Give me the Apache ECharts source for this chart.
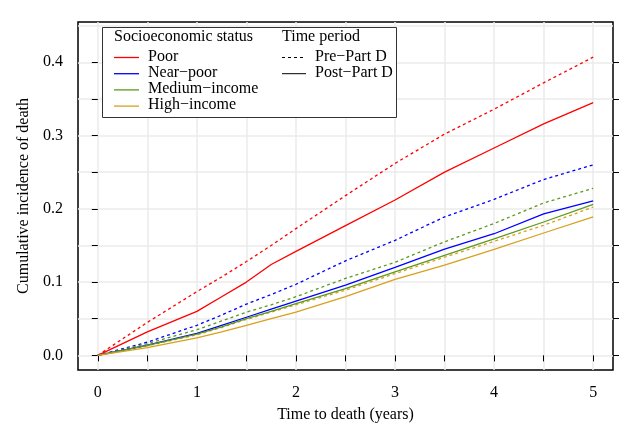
<!DOCTYPE html>
<html>
<head>
<meta charset="utf-8">
<script src="https://cdn.jsdelivr.net/npm/echarts@6/dist/echarts.min.js"></script>
<style>
  html, body { margin: 0; padding: 0; background: #fff; }
  #chart { width: 621px; height: 425px; }
</style>
</head>
<body>
<div id="chart"></div>
<script>
// years since start
const timePoints = [0, 0.5, 1, 1.25, 1.5, 1.75, 2, 2.5, 3, 3.5, 4, 4.5, 5];

// cumulative incidence
const poorPre      = [0, 0.045, 0.087, 0.107, 0.128, 0.150, 0.173, 0.218, 0.262, 0.302, 0.336, 0.372, 0.407];
const poorPost     = [0, 0.032, 0.060, 0.080, 0.100, 0.124, 0.142, 0.177, 0.212, 0.250, 0.283, 0.316, 0.345];
const nearPoorPre  = [0, 0.018, 0.041, 0.055, 0.070, 0.083, 0.097, 0.129, 0.157, 0.189, 0.213, 0.240, 0.260];
const nearPoorPost = [0, 0.014, 0.030, 0.041, 0.052, 0.063, 0.074, 0.096, 0.120, 0.145, 0.166, 0.193, 0.211];
const mediumPre    = [0, 0.016, 0.035, 0.047, 0.059, 0.069, 0.080, 0.105, 0.127, 0.155, 0.180, 0.208, 0.228];
const mediumPost   = [0, 0.0135, 0.029, 0.039, 0.050, 0.060, 0.0705, 0.091, 0.114, 0.1365, 0.159, 0.182, 0.206];
const highPre      = [0, 0.013, 0.028, 0.038, 0.049, 0.059, 0.069, 0.089, 0.1115, 0.134, 0.1556, 0.1775, 0.2025];
const highPost     = [0, 0.0105, 0.024, 0.032, 0.041, 0.050, 0.059, 0.080, 0.1037, 0.123, 0.1447, 0.167, 0.189];

const xTicks = [0, 0.5, 1, 1.5, 2, 2.5, 3, 3.5, 4, 4.5, 5];
const xLabels = [0, 1, 2, 3, 4, 5];
const yTicks = [0, 0.05, 0.1, 0.15, 0.2, 0.25, 0.3, 0.35, 0.4];
const yGrid = [0, 0.05, 0.1, 0.15, 0.2, 0.25, 0.3, 0.35, 0.4, 0.45];
const yLabels = [0, 0.1, 0.2, 0.3, 0.4];

const statusNames = ["Poor", "Near\u2212poor", "Medium\u2212income", "High\u2212income"];
const statusColors = ["#ff0000", "#0000ff", "#5b9a1c", "#d8a01e"];
const periodNames = ["Pre\u2212Part D", "Post\u2212Part D"];

const FONT = "Liberation Serif";
const FS = 16;

function pairs(ys) {
  return ys.map((v, i) => [timePoints[i], v]);
}

function line(name, ys, color, dashed) {
  return {
    name: name,
    type: "line",
    xAxisIndex: 0,
    yAxisIndex: 0,
    data: pairs(ys),
    showSymbol: false,
    silent: true,
    lineStyle: { color: color, width: 1.3, type: dashed ? [3, 3] : "solid" }
  };
}

const series = [
  line("poorPre", poorPre, statusColors[0], true),
  line("nearPoorPre", nearPoorPre, statusColors[1], true),
  line("mediumPre", mediumPre, statusColors[2], true),
  line("highPre", highPre, statusColors[3], true),
  line("poorPost", poorPost, statusColors[0], false),
  line("nearPoorPost", nearPoorPost, statusColors[1], false),
  line("mediumPost", mediumPost, statusColors[2], false),
  line("highPost", highPost, statusColors[3], false)
];

// legend drawn by hand (two titled columns)
const legendGraphics = [];
legendGraphics.push({
  type: "rect", left: 102, top: 27,
  shape: { width: 294, height: 90 },
  style: { fill: "#fff", stroke: "#333", lineWidth: 1 },
  z: 10
});
legendGraphics.push({
  type: "text", left: 114, top: 28.5, z: 11,
  style: { text: "Socioeconomic status", font: FS + "px " + FONT, fill: "#000" }
});
legendGraphics.push({
  type: "text", left: 282, top: 28.5, z: 11,
  style: { text: "Time period", font: FS + "px " + FONT, fill: "#000" }
});
statusNames.forEach((n, i) => {
  const y = 57.5 + i * 16.2;
  legendGraphics.push({
    type: "line", z: 11,
    shape: { x1: 114, y1: y, x2: 139, y2: y },
    style: { stroke: statusColors[i], lineWidth: 1.3 }
  });
  legendGraphics.push({
    type: "text", left: 148, top: y - 9, z: 11,
    style: { text: n, font: FS + "px " + FONT, fill: "#000" }
  });
});
periodNames.forEach((n, i) => {
  const y = 57.5 + i * 16.2;
  legendGraphics.push({
    type: "line", z: 11,
    shape: { x1: 282, y1: y, x2: 306, y2: y },
    style: { stroke: "#000", lineWidth: 1, lineDash: i === 0 ? [3, 3] : null }
  });
  legendGraphics.push({
    type: "text", left: 315, top: y - 9, z: 11,
    style: { text: n, font: FS + "px " + FONT, fill: "#000" }
  });
});

const tickStyle = { color: "#000", width: 1 };
const gridLine = { show: true, lineStyle: { color: "#ebebeb", width: 1.5 } };

const option = {
  animation: false,
  backgroundColor: "#fff",
  textStyle: { fontFamily: FONT },
  grid: {
    left: 78, right: 8, top: 22, bottom: 55,
    outerBoundsMode: "none",
    containLabel: false,
    show: true, borderColor: "#000", borderWidth: 1.5,
    backgroundColor: "transparent"
  },
  xAxis: [{
    type: "value", min: -0.2, max: 5.2,
    name: "Time to death (years)",
    nameLocation: "middle", nameGap: 37,
    nameTextStyle: { fontSize: FS, color: "#000", fontFamily: FONT },
    axisLine: { show: false },
    axisTick: { show: true, length: 6, inside: false, customValues: xTicks, lineStyle: tickStyle },
    axisLabel: { customValues: xLabels, fontSize: FS, color: "#000", margin: 15, fontFamily: FONT },
    splitLine: gridLine
  }],
  yAxis: [{
    type: "value", min: -0.02, max: 0.455, position: "left",
    name: "Cumulative incidence of death",
    nameLocation: "middle", nameGap: 46,
    nameTextStyle: { fontSize: FS, color: "#000", fontFamily: FONT },
    axisLine: { show: false },
    axisTick: { show: true, length: 6, customValues: yTicks, lineStyle: tickStyle },
    axisLabel: {
      customValues: yLabels, fontSize: FS, color: "#000", margin: 15, fontFamily: FONT,
      formatter: v => v.toFixed(1)
    },
    splitLine: { show: false }
  }, {
    type: "value", min: -0.02, max: 0.455, position: "right",
    axisLine: { show: false },
    axisTick: { show: true, length: 6, customValues: yTicks, lineStyle: tickStyle },
    axisLabel: { show: false },
    splitLine: { show: false }
  }, {
    type: "value", min: -0.02, max: 0.455, position: "left",
    axisLine: { show: false },
    axisTick: { show: false, customValues: yGrid },
    axisLabel: { show: false },
    splitLine: gridLine
  }],
  graphic: legendGraphics,
  series: series
};

const chart = echarts.init(document.getElementById("chart"));
chart.setOption(option);
</script>
</body>
</html>
